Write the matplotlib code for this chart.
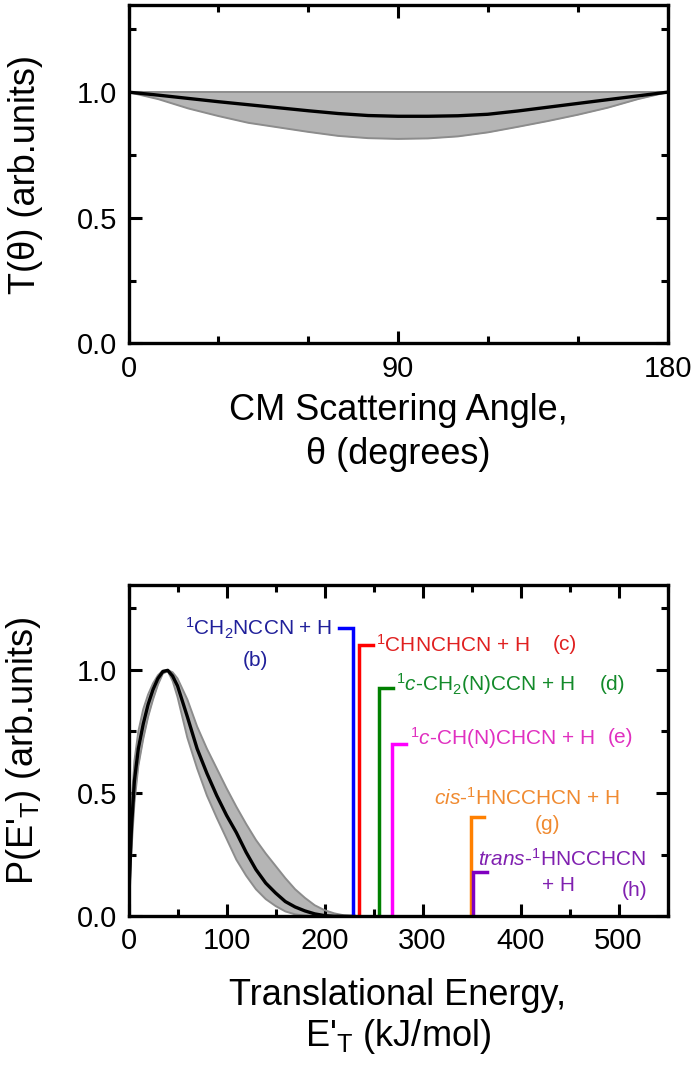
import matplotlib
matplotlib.use('Agg')
import matplotlib.pyplot as plt
from matplotlib.ticker import MultipleLocator, FormatStrFormatter

plt.rcParams['font.family'] = ['Liberation Sans', 'DejaVu Sans']
plt.rcParams['mathtext.fontset'] = 'custom'
plt.rcParams['mathtext.rm'] = 'Liberation Sans'
plt.rcParams['mathtext.it'] = 'Liberation Sans:italic'
plt.rcParams['mathtext.bf'] = 'Liberation Sans:bold'

# T(theta) - CM angular distribution
theta = [0, 10, 20, 30, 40, 50, 60, 70, 80, 90, 100, 110, 120, 130, 140, 150, 160, 170, 180]
t_best = [1.0, 0.988, 0.975, 0.962, 0.950, 0.938, 0.926, 0.915, 0.907, 0.904,
          0.904, 0.906, 0.912, 0.925, 0.940, 0.955, 0.970, 0.985, 1.0]
t_low = [1.0, 0.972, 0.935, 0.905, 0.878, 0.860, 0.842, 0.826, 0.817, 0.814,
         0.816, 0.824, 0.840, 0.862, 0.885, 0.910, 0.938, 0.972, 1.0]
t_high = [1.0] * len(theta)

# P(E'T) - translational energy distribution
energy = [0, 1, 3, 6, 10, 15, 20, 25, 30, 35, 40, 45, 50, 60, 70, 80, 90, 100,
          110, 120, 130, 140, 150, 160, 170, 180, 190, 200, 210, 220, 230]
p_best = [0, 0.15, 0.36, 0.55, 0.68, 0.78, 0.86, 0.92, 0.965, 0.993, 0.998, 0.975,
          0.935, 0.81, 0.68, 0.58, 0.49, 0.41, 0.34, 0.26, 0.19, 0.135, 0.095,
          0.06, 0.038, 0.022, 0.01, 0.003, 0, 0, 0]
p_high = [0, 0.22, 0.45, 0.63, 0.75, 0.84, 0.9, 0.945, 0.978, 0.997, 0.999, 0.99,
          0.965, 0.88, 0.77, 0.68, 0.6, 0.52, 0.445, 0.375, 0.31, 0.255, 0.205,
          0.155, 0.11, 0.075, 0.045, 0.025, 0.012, 0.004, 0]
p_low = [0, 0.1, 0.27, 0.46, 0.61, 0.72, 0.81, 0.88, 0.94, 0.985, 0.995, 0.955,
         0.89, 0.725, 0.6, 0.49, 0.4, 0.315, 0.23, 0.165, 0.11, 0.07, 0.042,
         0.02, 0.008, 0.003, 0, 0, 0, 0, 0]

# reaction energies (kJ/mol) and marker heights
ch_energy = [229, 235, 256, 269, 349, 352]
ch_height = [1.17, 1.10, 0.925, 0.70, 0.405, 0.178]
ch_color = ['#0000ff', '#ff0000', '#008000', '#ff00ff', '#ff8000', '#8000c0']
ch_text_color = ['#20209a', '#e02020', '#138a2a', '#e030c0', '#f08a30', '#8020b0']
ch_side = [-1, 1, 1, 1, 1, 1]

fig = plt.figure(figsize=(6.91, 10.87), dpi=100)
ax1 = fig.add_axes([0.186, 0.684, 0.780, 0.311])
ax2 = fig.add_axes([0.186, 0.157, 0.780, 0.305])

band_fill = '#b5b5b5'
band_edge = '#8c8c8c'

ax1.fill_between(theta, t_low, t_high, color=band_fill, lw=0)
ax1.plot(theta, t_low, color=band_edge, lw=1.4)
ax1.plot(theta, t_high, color=band_edge, lw=1.4)
ax1.plot(theta, t_best, color='black', lw=2.4)

ax2.fill_between(energy, p_low, p_high, color=band_fill, lw=0)
ax2.plot(energy, p_low, color=band_edge, lw=1.4)
ax2.plot(energy, p_high, color=band_edge, lw=1.4)
ax2.plot(energy, p_best, color='black', lw=2.4)

for e, h, c, s in zip(ch_energy, ch_height, ch_color, ch_side):
    ax2.plot([e, e, e + s * 14], [0, h, h], color=c, lw=2.5, solid_joinstyle='miter')

fs = 15
tc = ch_text_color
ax2.text(208, 1.17, r'$^{1}$CH$_{2}$NCCN + H', color=tc[0], fontsize=fs, ha='right', va='center')
ax2.text(129, 1.036, '(b)', color=tc[0], fontsize=fs, ha='center', va='center')
ax2.text(253, 1.103, r'$^{1}$CHNCHCN + H', color=tc[1], fontsize=fs, ha='left', va='center')
ax2.text(445, 1.103, '(c)', color=tc[1], fontsize=fs, ha='center', va='center')
ax2.text(273, 0.942, r'$^{1}$$\it{c}$-CH$_{2}$(N)CCN + H', color=tc[2], fontsize=fs, ha='left', va='center')
ax2.text(494, 0.942, '(d)', color=tc[2], fontsize=fs, ha='center', va='center')
ax2.text(287, 0.724, r'$^{1}$$\it{c}$-CH(N)CHCN + H', color=tc[3], fontsize=fs, ha='left', va='center')
ax2.text(502, 0.724, '(e)', color=tc[3], fontsize=fs, ha='center', va='center')
ax2.text(312, 0.48, r'$\it{cis}$-$^{1}$HNCCHCN + H', color=tc[4], fontsize=fs, ha='left', va='center')
ax2.text(428, 0.373, '(g)', color=tc[4], fontsize=fs, ha='center', va='center')
ax2.text(357, 0.232, r'$\it{trans}$-$^{1}$HNCCHCN', color=tc[5], fontsize=fs, ha='left', va='center')
ax2.text(439, 0.125, '+ H', color=tc[5], fontsize=fs, ha='center', va='center')
ax2.text(516, 0.105, '(h)', color=tc[5], fontsize=fs, ha='center', va='center')

for ax in (ax1, ax2):
    ax.set_ylim(0, 1.345)
    ax.yaxis.set_major_locator(MultipleLocator(0.5))
    ax.yaxis.set_minor_locator(MultipleLocator(0.25))
    ax.yaxis.set_major_formatter(FormatStrFormatter('%.1f'))
    ax.tick_params(which='both', direction='in', top=True, right=True, width=2.2,
                   labelsize=21, pad=8)
    ax.tick_params(which='major', length=9)
    ax.tick_params(which='minor', length=5)
    for sp in ax.spines.values():
        sp.set_linewidth(2.4)
    ax.yaxis.set_label_coords(-0.158, 0.5)

ax1.set_xlim(0, 180)
ax1.xaxis.set_major_locator(MultipleLocator(90))
ax1.xaxis.set_minor_locator(MultipleLocator(30))
ax1.set_ylabel('T(θ) (arb.units)', fontsize=26)
ax1.set_xlabel('CM Scattering Angle,\nθ (degrees)', fontsize=26, linespacing=1.35, va='top')
ax1.xaxis.set_label_coords(0.5, -0.145)

ax2.set_xlim(0, 550)
ax2.xaxis.set_major_locator(MultipleLocator(100))
ax2.xaxis.set_minor_locator(MultipleLocator(50))
ax2.set_ylabel(r"P(E'$_{\mathrm{T}}$) (arb.units)", fontsize=26)
ax2.set_xlabel("Translational Energy,\nE'$_{\\mathrm{T}}$ (kJ/mol)", fontsize=26,
               linespacing=1.15, va='top')
ax2.xaxis.set_label_coords(0.5, -0.185)

fig.savefig('out.png', dpi=100)
